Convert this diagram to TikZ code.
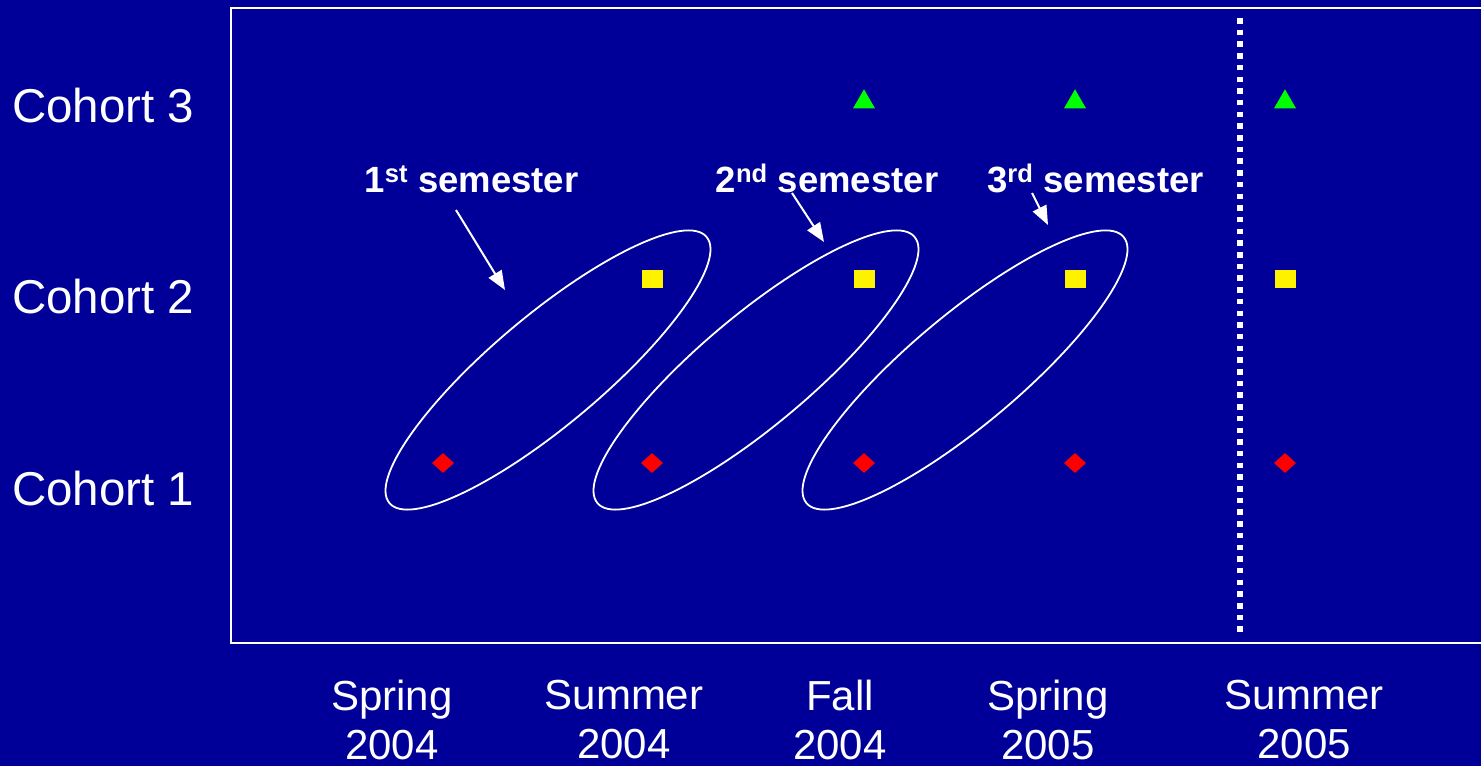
\documentclass[tikz,border=0pt]{standalone}
\usepackage{fontspec}
\setmainfont{Liberation Sans}
\usetikzlibrary{shapes.geometric,arrows.meta}
\definecolor{bgblue}{HTML}{000099}
\tikzset{
  cohort/.style={anchor=base west, text=white, font=\fontsize{47.5}{50}\selectfont, inner sep=0},
  term/.style={align=center, text=white, font=\fontsize{42}{49}\selectfont, inner sep=0},
  semlabel/.style={anchor=base, text=white, font=\bfseries\fontsize{36.5}{40}\selectfont, inner sep=0},
  semring/.style={ellipse, draw=white, line width=1.8pt, minimum width=414pt, minimum height=110pt, inner sep=0, rotate=40},
  arr/.style={draw=white, line width=2pt, -{Triangle[length=19pt,width=15pt]}},
  dia/.style={diamond, fill=red, inner sep=0, minimum width=22pt, minimum height=20pt},
  sq/.style={rectangle, fill=yellow, inner sep=0, minimum width=21pt, minimum height=18pt},
  tri/.style={regular polygon, regular polygon sides=3, fill=green, inner sep=0, minimum size=25.4pt},
}
\begin{document}
\begin{tikzpicture}[x=1pt,y=-1pt]
\fill[bgblue] (0,0) rectangle (1481,766);
\useasboundingbox (0,0) rectangle (1481,766);
% frame
\draw[white, line width=2pt] (1481,8) -- (231,8) -- (231,643) -- (1481,643);
% dotted separator
\coordinate (dtop) at (1240,18);
\coordinate (dbot) at (1240,636);
\draw[white, line width=5.5pt, dash pattern=on 5.5pt off 6.2pt] (dtop) -- (dbot);
% cohort labels
\node[cohort] (c3) at (12,122) {Cohort 3};
\node[cohort] (c2) at (12,313) {Cohort 2};
\node[cohort] (c1) at (12,505) {Cohort 1};
% term labels
\node[term] (t1) at (392,720) {Spring\\2004};
\node[term] (t2) at (624,720) {Summer\\2004};
\node[term] (t3) at (840,720) {Fall\\2004};
\node[term] (t4) at (1048,720) {Spring\\2005};
\node[term] (t5) at (1304,720) {Summer\\2005};
% markers
\foreach \x/\n in {443/1,652/2,864/3,1075/4,1285/5}{
  \node[dia] (d\n) at (\x,463) {};
}
\foreach \x/\n in {652/2,864/3,1075/4,1285/5}{
  \node[sq] (s\n) at (\x,279) {};
}
\foreach \x/\n in {864/3,1075/4,1285/5}{
  \node[tri] (g\n) at (\x,102) {};
}
% ellipses
\node[semring] (e1) at (548,370) {};
\node[semring] (e2) at (756,370) {};
\node[semring] (e3) at (965,370) {};
% semester labels
\node[semlabel] (l1) at (471.5,192) {1\textsuperscript{st} semester};
\node[semlabel] (l2) at (827,192) {2\textsuperscript{nd} semester};
\node[semlabel] (l3) at (1095.5,192) {3\textsuperscript{rd} semester};
% arrows
\coordinate (a1s) at (456,210);
\coordinate (a1e) at (505,290);
\coordinate (a2s) at (792,193);
\coordinate (a2e) at (824,242);
\coordinate (a3s) at (1032,193);
\coordinate (a3e) at (1048,225);
\draw[arr] (a1s) -- (a1e);
\draw[arr] (a2s) -- (a2e);
\draw[arr] (a3s) -- (a3e);
\end{tikzpicture}
\end{document}
